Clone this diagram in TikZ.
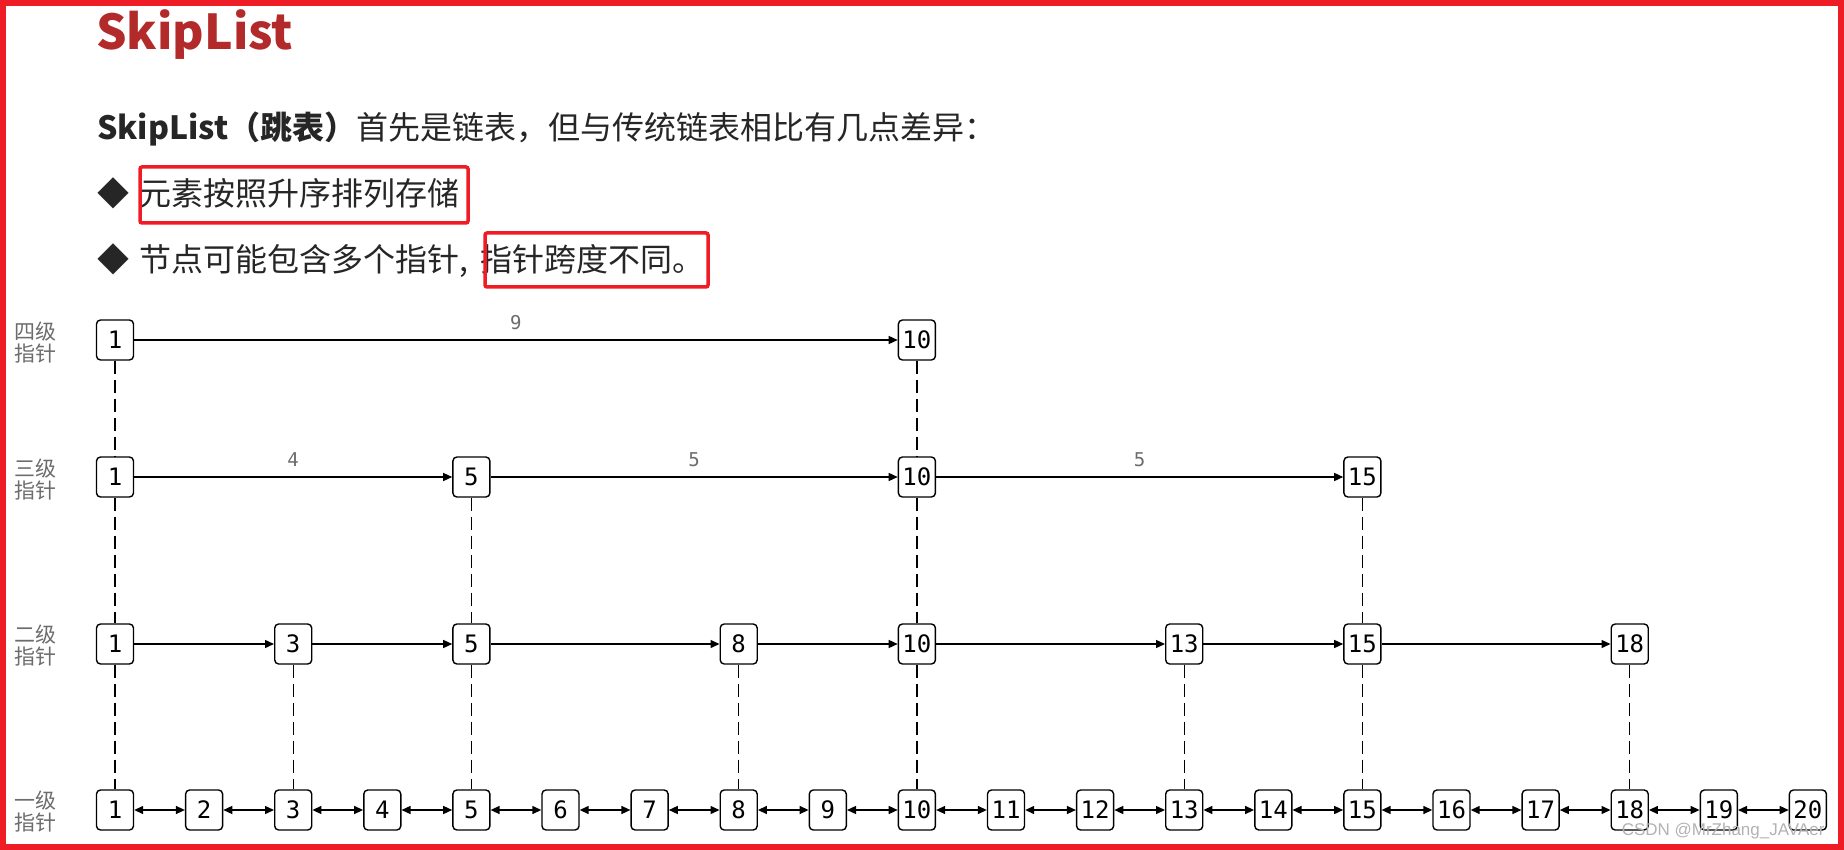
\documentclass[tikz,border=0pt]{standalone}
\usepackage{fontspec}
\setmainfont{Noto Sans CJK SC}
\newfontfamily\cjk{Noto Sans CJK SC}
\newfontfamily\mono{DejaVu Sans Mono}
\usetikzlibrary{arrows.meta}
\definecolor{titlered}{HTML}{B22A2A}
\definecolor{boxred}{HTML}{EE1C25}
\tikzset{
  nd/.style={draw,line width=1.4pt,rounded corners=4pt,minimum width=37pt,minimum height=40pt,inner sep=1pt,font=\mono\fontsize{24}{24}\selectfont,fill=white},
  lnk/.style={line width=1.4pt,-{Triangle[length=9pt,width=8pt]}},
  dlnk/.style={line width=1.4pt,{Triangle[length=9pt,width=8pt]}-{Triangle[length=9pt,width=8pt]}},
  vdash/.style={line width=1.4pt,dash pattern=on 13pt off 6pt},
  lvl/.style={text=gray!85!black,font=\cjk\fontsize{21}{24}\selectfont,align=left,anchor=west,inner sep=0},
  span/.style={text=gray!85!black,font=\mono\fontsize{19}{19}\selectfont},
  hl/.style={draw=boxred,line width=3.5pt,rounded corners=2pt},
  body/.style={anchor=base west,font=\cjk\fontsize{32}{34}\selectfont,inner sep=0,text=black!85}
}
\begin{document}
\begin{tikzpicture}[x=1pt,y=-1pt]
\useasboundingbox (0,0) rectangle (1844,850);
\draw[boxred,line width=6pt] (3,3) rectangle (1841,847);
\node[anchor=base west,text=titlered,font=\cjk\bfseries\fontsize{48}{50}\selectfont,inner sep=0] (title) at (96,50) {SkipList};
\node[body] (intro) at (97,140) {\textbf{SkipList（跳表）}首先是链表，但与传统链表相比有几点差异：};
\node[body] (b1) at (97,206) {◆\hspace{10pt}元素按照升序排列存储};
\node[body] (b2) at (97,272) {◆\hspace{10pt}节点可能包含多个指针,\hspace{12pt}指针跨度不同。};
\draw[hl] (140,167) rectangle (468,223);
\draw[hl] (485,233) rectangle (708,287);
% level labels
\node[lvl] (l4) at (14,343) {四级\\[-2pt]指针};
\node[lvl] (l3) at (14,480) {三级\\[-2pt]指针};
\node[lvl] (l2) at (14,646) {二级\\[-2pt]指针};
\node[lvl] (l1) at (14,812) {一级\\[-2pt]指针};
% level 1
\foreach \i in {1,...,20} {\node[nd] (a\i) at ({115+89.1*(\i-1)},810) {\i};}
\foreach \i [evaluate=\i as \j using int(\i+1)] in {1,...,19} {\draw[dlnk] (a\i) -- (a\j);}
% level 2
\foreach \i in {1,3,5,8,10,13,15,18} {\node[nd] (b\i) at ({115+89.1*(\i-1)},644) {\i};}
\draw[lnk] (b1)--(b3); \draw[lnk] (b3)--(b5); \draw[lnk] (b5)--(b8); \draw[lnk] (b8)--(b10);
\draw[lnk] (b10)--(b13); \draw[lnk] (b13)--(b15); \draw[lnk] (b15)--(b18);
% level 3
\foreach \i in {1,5,10,15} {\node[nd] (c\i) at ({115+89.1*(\i-1)},477) {\i};}
\draw[lnk] (c1)-- node[span,above=6pt] (s4) {4} (c5);
\draw[lnk] (c5)-- node[span,above=6pt] (s5a) {5} (c10);
\draw[lnk] (c10)-- node[span,above=6pt] (s5b) {5} (c15);
% level 4
\foreach \i in {1,10} {\node[nd] (d\i) at ({115+89.1*(\i-1)},340) {\i};}
\draw[lnk] (d1)-- node[span,above=6pt] (s9) {9} (d10);
% verticals
\foreach \i in {1,3,5,8,10,13,15,18} {\draw[vdash] (b\i.south) -- (a\i.north);}
\foreach \i in {1,5,10,15} {\draw[vdash] (c\i.south) -- (b\i.north);}
\foreach \i in {1,10} {\draw[vdash] (d\i.south) -- (c\i.north);}
\node[anchor=east,text=gray!60,font=\fontspec{Liberation Sans}\fontsize{17}{17}\selectfont] (wm) at (1828,831) {CSDN @MrZhang\_JAVAer};
\end{tikzpicture}
\end{document}
